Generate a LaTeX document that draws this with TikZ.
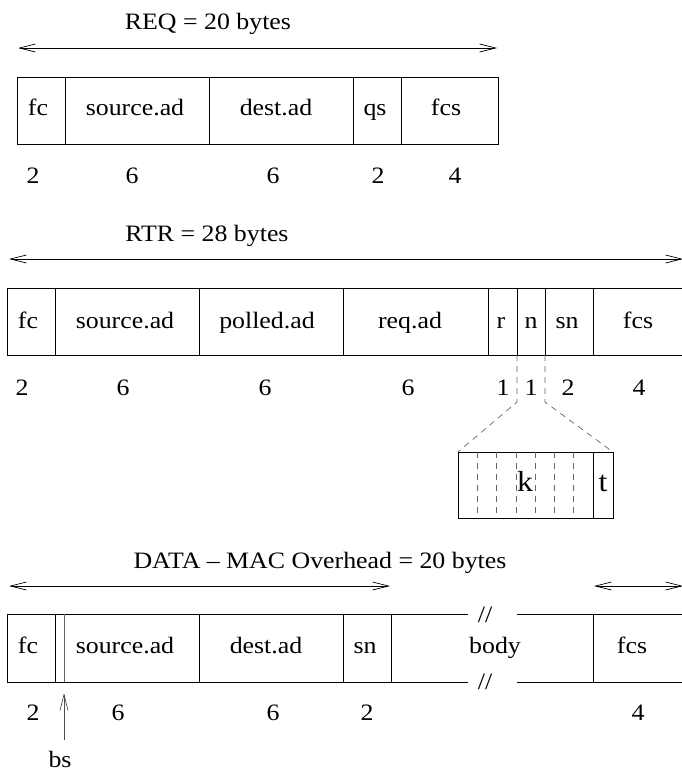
\documentclass[tikz,border=0pt]{standalone}
\usepackage{fontspec}
\setmainfont{Liberation Serif}[FakeStretch=1.1]
\usetikzlibrary{arrows.meta}
\begin{document}
\begin{tikzpicture}[x=1pt,y=-1pt, line width=0.9pt,
  lbl/.style={anchor=base, inner sep=0pt, font=\fontsize{23.5}{28}\selectfont},
  biglbl/.style={anchor=base, inner sep=0pt, font=\fontsize{29}{34}\selectfont},
  dimarrow/.style={{Straight Barb[length=16pt,width=8pt]}-{Straight Barb[length=16pt,width=8pt]}, line width=0.7pt},
  uparrow/.style={-{Straight Barb[length=16pt,width=8pt]}, line width=0.7pt, black!70},
  dashline/.style={dash pattern=on 6pt off 5pt, line width=0.7pt, black!60},
  thinsep/.style={line width=0.9pt, black!60}]
\useasboundingbox (0,0) rectangle (682,771);
\clip (0,0) rectangle (682,771);

% ---------------- REQ ----------------
\coordinate (reqL) at (18,48);
\coordinate (reqR) at (497,48);
\draw[dimarrow] (reqL) -- (reqR);
\node[lbl] (reqT) at (208,29) {REQ = 20 bytes};
\draw (17,77) rectangle (498,144);
\foreach \x in {65,209,353,401} \draw (\x,77) -- (\x,144);
\node[lbl] (req1) at (38,115) {fc};
\node[lbl] (req2) at (135,115) {source.ad};
\node[lbl] (req3) at (276,115) {dest.ad};
\node[lbl] (req4) at (375,115) {qs};
\node[lbl] (req5) at (446,115) {fcs};
\node[lbl] (reqn1) at (33,183) {2};
\node[lbl] (reqn2) at (132,183) {6};
\node[lbl] (reqn3) at (273,183) {6};
\node[lbl] (reqn4) at (378,183) {2};
\node[lbl] (reqn5) at (455,183) {4};

% ---------------- RTR ----------------
\coordinate (rtrL) at (9,259);
\coordinate (rtrR) at (683,259);
\draw[dimarrow] (rtrL) -- (rtrR);
\node[lbl] (rtrT) at (207,241) {RTR = 28 bytes};
\draw (690,288) -- (7,288) -- (7,355) -- (690,355);
\foreach \x in {55,199,343,488,517,545,593} \draw (\x,288) -- (\x,355);
\node[lbl] (rtr1) at (28,328) {fc};
\node[lbl] (rtr2) at (125,328) {source.ad};
\node[lbl] (rtr3) at (267,328) {polled.ad};
\node[lbl] (rtr4) at (410,328) {req.ad};
\node[lbl] (rtr5) at (501,328) {r};
\node[lbl] (rtr6) at (531,328) {n};
\node[lbl] (rtr7) at (567,328) {sn};
\node[lbl] (rtr8) at (638,328) {fcs};
\node[lbl] (rtrn1) at (22,395) {2};
\node[lbl] (rtrn2) at (123,395) {6};
\node[lbl] (rtrn3) at (265,395) {6};
\node[lbl] (rtrn4) at (408,395) {6};
\node[lbl] (rtrn5) at (503,395) {1};
\node[lbl] (rtrn6) at (531,395) {1};
\node[lbl] (rtrn7) at (568,395) {2};
\node[lbl] (rtrn8) at (639,395) {4};

% expansion of n
\coordinate (nL0) at (517,355);
\coordinate (nL1) at (517,402);
\coordinate (nR0) at (545,355);
\coordinate (nR1) at (545,402);
\coordinate (kTL) at (458,452);
\coordinate (kTR) at (613,452);
\draw[dashline] (nL0) -- (nL1) -- (kTL);
\draw[dashline] (nR0) -- (nR1) -- (kTR);
\draw (458,452) rectangle (613,518);
\draw (593,452) -- (593,518);
\foreach \i in {1,...,6} \draw[dashline] ({458+19.3*\i},452) -- ({458+19.3*\i},518);
\node[biglbl] (kk) at (525,491) {k};
\node[biglbl] (kt) at (603,491) {t};

% ---------------- DATA ----------------
\coordinate (dL) at (9,586);
\coordinate (dM) at (390,586);
\coordinate (dF) at (594,586);
\coordinate (dR) at (683,586);
\draw[dimarrow] (dL) -- (dM);
\draw[dimarrow] (dF) -- (dR);
\node[lbl] (dT) at (320,568) {DATA -- MAC Overhead = 20 bytes};
\draw (468,614) -- (7,614) -- (7,682) -- (468,682);
\draw (517,614) -- (690,614);
\draw (517,682) -- (690,682);
\foreach \x in {55,199,343,391,593} \draw (\x,614) -- (\x,682);
\draw[thinsep] (64,614) -- (64,682);
\node[lbl] (bk1) at (485,622) {//};
\node[lbl] (bk2) at (485,689) {//};
\node[lbl] (d1) at (28,653) {fc};
\node[lbl] (d2) at (125,653) {source.ad};
\node[lbl] (d3) at (266,653) {dest.ad};
\node[lbl] (d4) at (365,653) {sn};
\node[lbl] (d5) at (495,653) {body};
\node[lbl] (d6) at (632,653) {fcs};
\node[lbl] (dn1) at (33,720) {2};
\node[lbl] (dn2) at (118,720) {6};
\node[lbl] (dn3) at (273,720) {6};
\node[lbl] (dn4) at (367,720) {2};
\node[lbl] (dn5) at (638,720) {4};
\node[lbl] (bs) at (60,767) {bs};
\coordinate (bsA) at (64,740);
\coordinate (bsB) at (64,693);
\draw[uparrow] (bsA) -- (bsB);
\end{tikzpicture}
\end{document}
